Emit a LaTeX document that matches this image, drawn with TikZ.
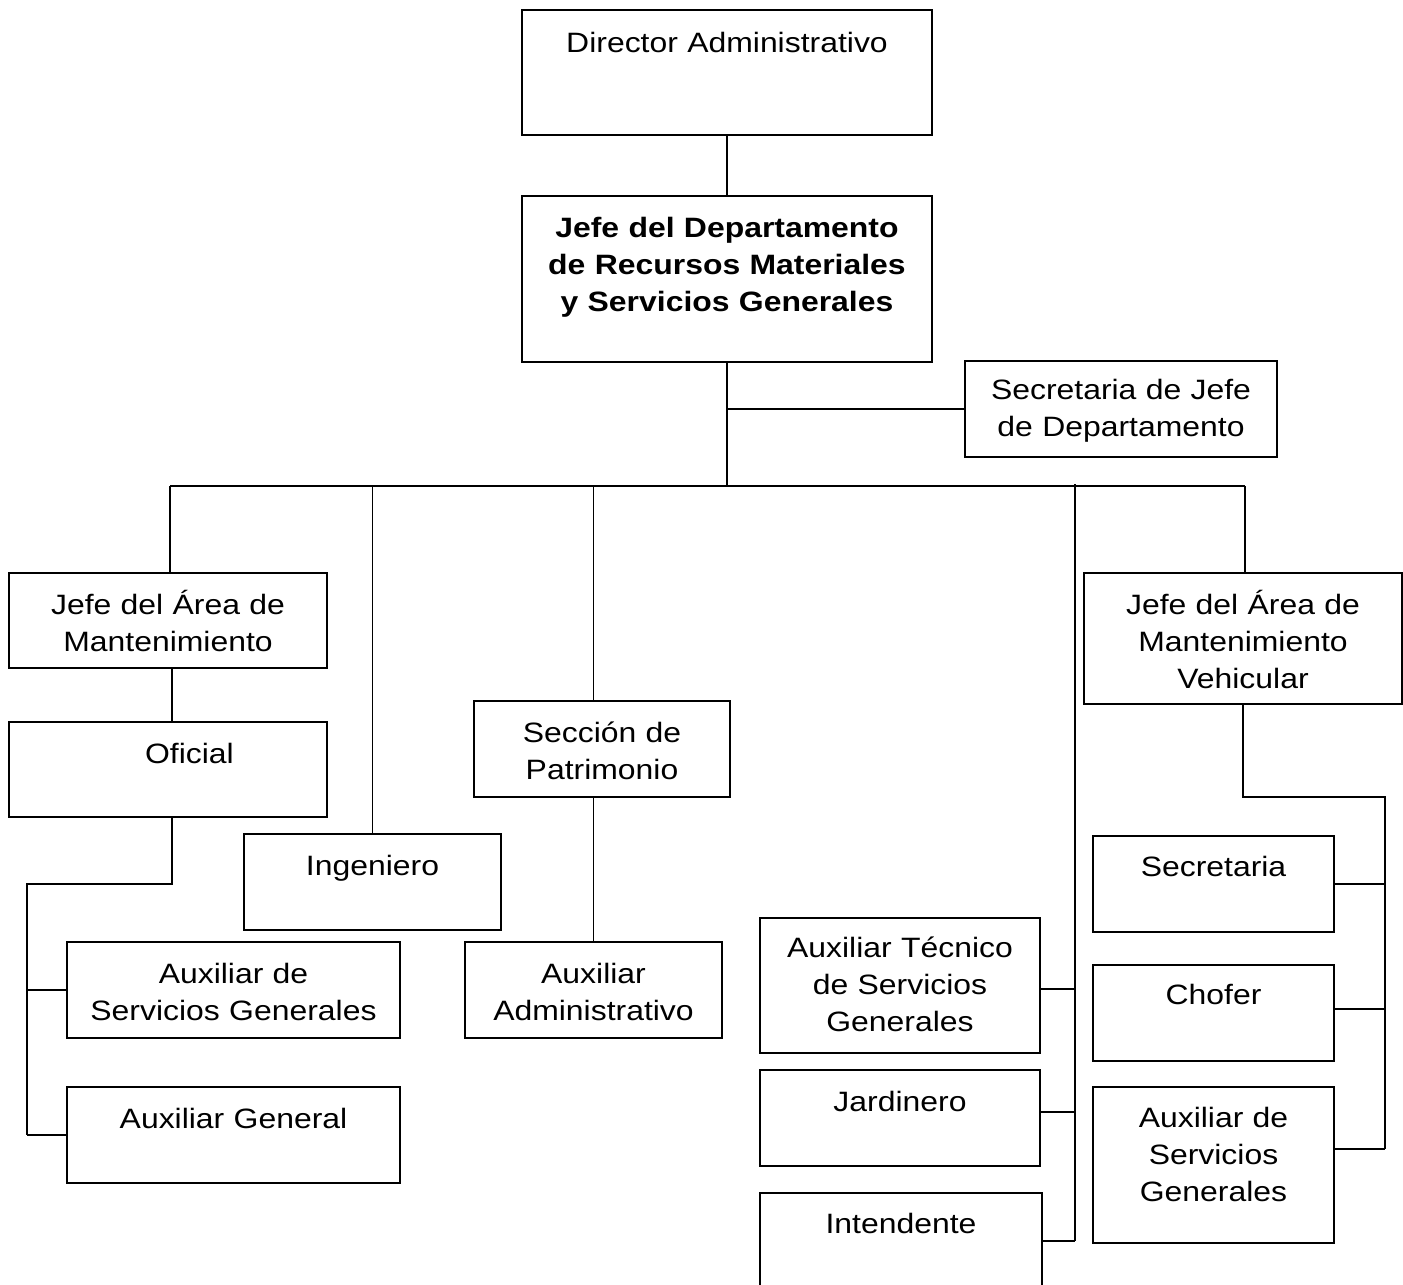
\documentclass[tikz,border=0pt]{standalone}
\usepackage{fontspec}
\setmainfont{Liberation Sans}[FakeStretch=1.14]
\usepackage{tikz}

\begin{document}
\begin{tikzpicture}[
			x=1pt, y=-1pt,
			puesto/.style={draw, line width=1.9pt, inner sep=0pt, outer sep=0pt, anchor=north west,
				align=center, text height=41pt, font=\fontsize{28}{37}\selectfont},
			dims/.style 2 args={text width=#1pt, text depth=#2pt},
			linea/.style={line width=1.9pt}
		]
		\clip (0,0) rectangle (1403,1285);
		
		% Direccion
		\node[puesto, dims={410}{83}, text height=42pt] (dir) at (522,10) {Director Administrativo};
		\node[puesto, dims={410}{125}] (jefe) at (522,196) {\textbf{Jefe del Departamento}\\\textbf{de Recursos Materiales}\\\textbf{y Servicios Generales}};
		\node[puesto, dims={312}{58}, text height=38pt] (secj) at (965,361) {Secretaria de Jefe\\de Departamento};
		
		% Mantenimiento
		\node[puesto, dims={318}{54}] (mant) at (9,573) {Jefe del Área de\\Mantenimiento};
		\node[puesto, dims={318}{54}] (ofic) at (9,722) {\hspace*{43pt}Oficial};
		\node[puesto, dims={333}{55}] (auxsg) at (67,942) {Auxiliar de\\Servicios Generales};
		\node[puesto, dims={333}{55}] (auxgen) at (67,1087) {Auxiliar General};
		\node[puesto, dims={257}{55}] (ing) at (244,834) {Ingeniero};
		
		% Patrimonio
		\node[puesto, dims={256}{55}] (patr) at (474,701) {Sección de\\Patrimonio};
		\node[puesto, dims={257}{55}] (auxadm) at (465,942) {Auxiliar\\Administrativo};
		
		% Servicios generales
		\node[puesto, dims={280}{96}, text height=39pt] (auxtec) at (760,918) {Auxiliar Técnico\\de Servicios\\Generales};
		\node[puesto, dims={280}{55}] (jard) at (760,1070) {Jardinero};
		\node[puesto, dims={282}{56}, text height=40pt] (inten) at (760,1193) {Intendente};
		
		% Mantenimiento vehicular
		\node[puesto, dims={318}{90}] (vehic) at (1084,573) {Jefe del Área de\\Mantenimiento\\Vehicular};
		\node[puesto, dims={241}{56}, text height=40pt] (secr) at (1093,836) {Secretaria};
		\node[puesto, dims={241}{57}, text height=39pt] (chof) at (1093,965) {Chofer};
		\node[puesto, dims={241}{116}, text height=40pt] (auxsgv) at (1093,1087) {Auxiliar de\\Servicios\\Generales};
		
		% Lineas de mando
		\coordinate (busL) at (170,486);
		\coordinate (busR) at (1245,486);
		\coordinate (busM) at (1075,484);
		\coordinate (lrail) at (27,884);
		\coordinate (vrail) at (1385,797);
		\coordinate (mantS) at ([xshift=4pt]mant.south);
		\coordinate (oficS) at ([xshift=4pt]ofic.south);
		\coordinate (tecE) at ([yshift=-3.5pt]auxtec.east);
		\coordinate (jardE) at ([yshift=6pt]jard.east);
		\coordinate (chofE) at ([yshift=4pt]chof.east);
		\coordinate (auxvE) at ([yshift=16pt]auxsgv.east);
		
		\draw[linea] (dir.south) -- (jefe.north);
		\draw[linea] (jefe.south) -- (jefe.south |- busL);
		\draw[linea] (jefe.south |- secj.west) -- (secj.west);
		\draw[linea] (busL) -- (busR);
		\draw[linea] (busL) -- (busL |- mant.north);
		\draw[linea] (ing.north |- busL) -- (ing.north);
		\draw[linea] (auxadm.north |- busL) -- (auxadm.north |- patr.north);
		\draw[linea] (auxadm.north |- patr.south) -- (auxadm.north);
		\draw[linea] (busR) -- (busR |- vehic.north);
		
		\draw[linea] (mantS) -- (mantS |- ofic.north);
		\draw[linea] (oficS) -- (oficS |- lrail) -- (lrail) -- (lrail |- auxgen.west);
		\draw[linea] (lrail |- auxsg.west) -- (auxsg.west);
		\draw[linea] (lrail |- auxgen.west) -- (auxgen.west);
		
		\draw[linea] (busM) -- (busM |- inten.east);
		\draw[linea] (tecE) -- (busM |- tecE);
		\draw[linea] (jardE) -- (busM |- jardE);
		\draw[linea] (inten.east) -- (busM |- inten.east);
		
		\draw[linea] (vehic.south) -- (vehic.south |- vrail) -- (vrail) -- (vrail |- auxvE);
		\draw[linea] (secr.east) -- (vrail |- secr.east);
		\draw[linea] (chofE) -- (vrail |- chofE);
		\draw[linea] (auxvE) -- (vrail |- auxvE);
		
\end{tikzpicture}
\end{document}
